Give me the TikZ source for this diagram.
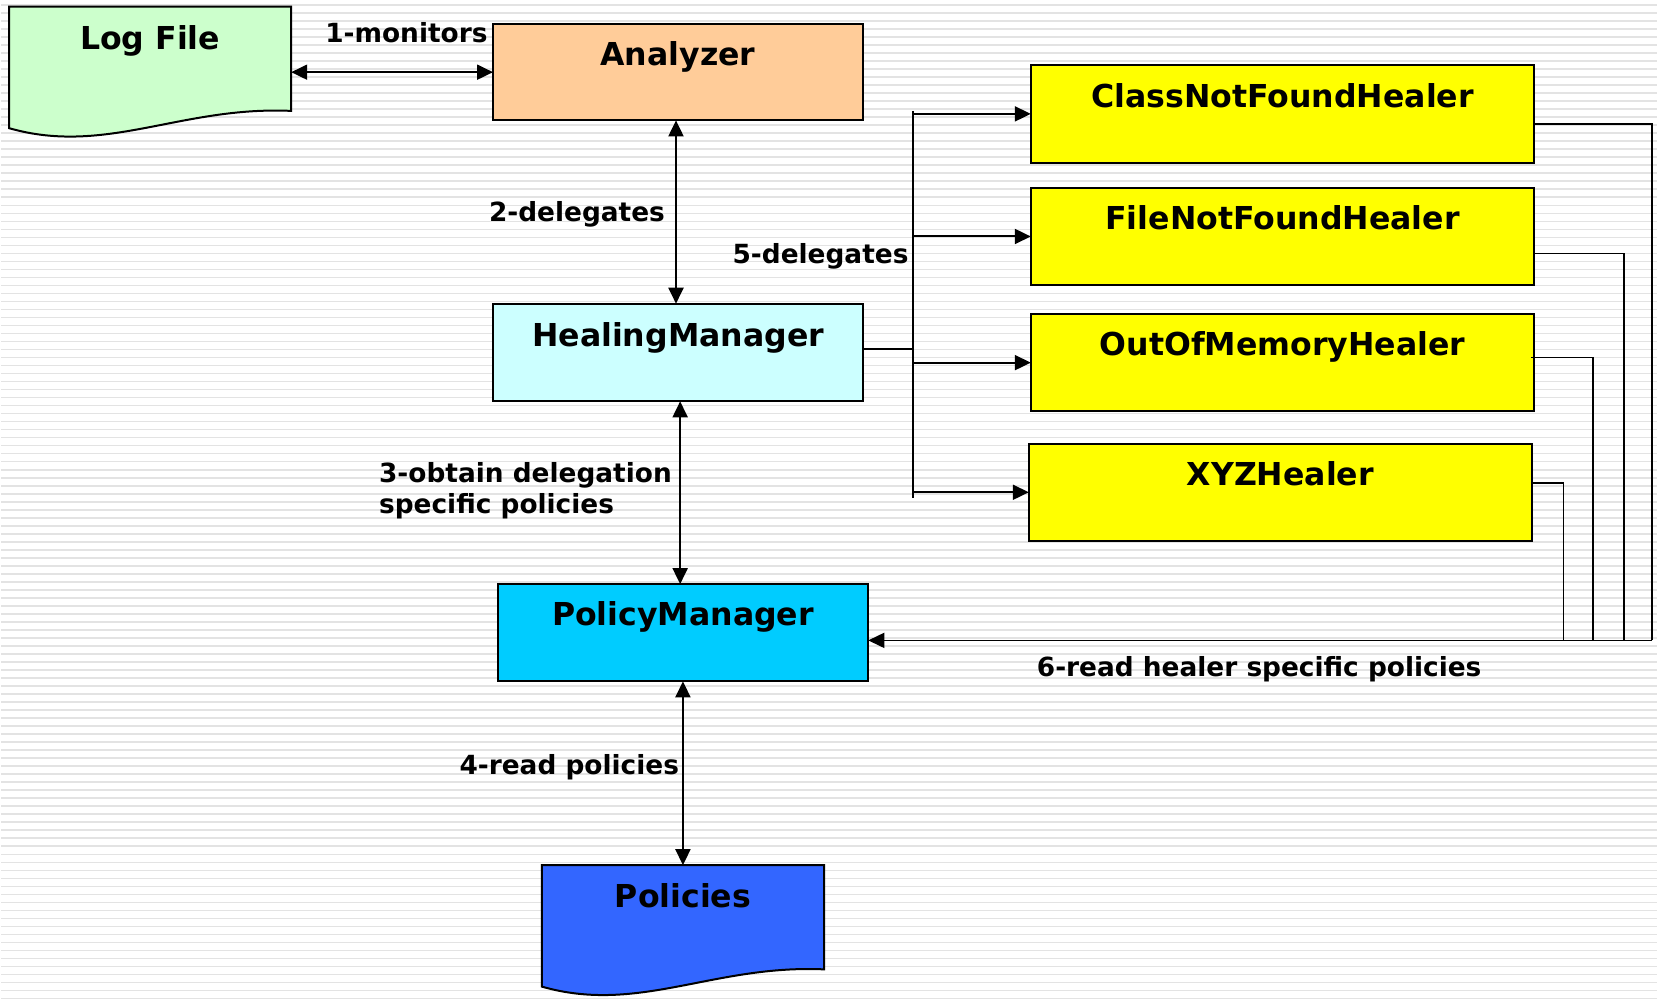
\documentclass[tikz,border=0pt]{standalone}
\usepackage{fontspec}
\setmainfont{DejaVu Sans}
\usetikzlibrary{arrows.meta,calc,fit}
\definecolor{logc}{HTML}{CCFFCC}
\definecolor{anc}{HTML}{FFCC99}
\definecolor{hmc}{HTML}{CCFFFF}
\definecolor{pmc}{HTML}{00CCFF}
\definecolor{polc}{HTML}{3366FF}
\definecolor{hc}{HTML}{FFFF00}
\begin{document}
\begin{tikzpicture}[x=0.5pt,y=-0.5pt,
  box/.style={draw=black,line width=1pt,inner sep=0pt,outer sep=0pt},
  area/.style={inner sep=0pt,outer sep=0pt},
  ttl/.style={font=\fontsize{15.8pt}{18pt}\selectfont\bfseries,inner sep=0pt,anchor=base},
  lbl/.style={font=\fontsize{13.2pt}{16pt}\selectfont\bfseries,inner sep=0pt},
  conn/.style={line width=1pt,draw=black},
  arr/.style={conn,-{Triangle[length=8pt,width=7.5pt]}},
  biarr/.style={conn,{Triangle[length=8pt,width=7.5pt]}-{Triangle[length=8pt,width=7.5pt]}},
  ret/.style={line width=0.8pt,draw=black}]
% background
\fill[white] (0,0) rectangle (1658,998);
\foreach \k in {0,...,124} \draw[black!11,line width=0.8pt] (0,5+8.02*\k) -- (1658,5+8.02*\k);
\useasboundingbox (0,0) rectangle (1658,998);

% Log File (document shape)
\draw[box,fill=logc] (8.3,6.7) -- (290.7,6.7) -- (290.7,111) .. controls (180,106) and (105,156) .. (8.3,128.3) -- cycle;
\node[area,fit={(8.3,6.7) (290.7,111)}] (log) {};
\node[ttl] (tlog) at (149.5,50) {Log File};

% Policies (document shape)
\begin{scope}[shift={(533.4,859.3)}]
\draw[box,fill=polc] (8.3,6.7) -- (290.7,6.7) -- (290.7,111) .. controls (180,106) and (105,156) .. (8.3,128.3) -- cycle;
\end{scope}
\node[area,fit={(541.7,866) (824.1,970.3)}] (pol) {};
\node[ttl] (tpol) at ($(pol.north)+(0,42.3)$) {Policies};

% boxes
\node[box,fill=anc,fit={(492.7,24) (863,120.5)}] (an) {};
\node[box,fill=hmc,fit={(492.7,304) (863.3,401.7)}] (hm) {};
\node[box,fill=pmc,fit={(497.3,584.7) (868.3,682)}] (pm) {};
\node[box,fill=hc,fit={(1031,65.3) (1535,162.7)}] (c1) {};
\node[box,fill=hc,fit={(1031,187.7) (1535,285.7)}] (c2) {};
\node[box,fill=hc,fit={(1031,314.3) (1535,411.7)}] (c3) {};
\node[box,fill=hc,fit={(1029,444) (1532.7,541.5)}] (c4) {};

\node[ttl] (tan) at ($(an.north)+(0,42)$) {Analyzer};
\node[ttl] (thm) at ($(hm.north)+(0,42.7)$) {HealingManager};
\node[ttl] (tpm) at ($(pm.north)+(0,41.3)$) {PolicyManager};
\node[ttl] (tc1) at ($(c1.north)+(0,42)$) {ClassNotFoundHealer};
\node[ttl] (tc2) at ($(c2.north)+(0,42)$) {FileNotFoundHealer};
\node[ttl] (tc3) at ($(c3.north)+(0,42)$) {OutOfMemoryHealer};
\node[ttl] (tc4) at ($(c4.north)+(0,42)$) {XYZHealer};

% connectors
\draw[biarr] (log.east |- an.west) -- (an.west);
\coordinate (a1) at ($(an.south)+(-2,0)$);
\draw[biarr] (a1) -- (a1 |- hm.north);
\coordinate (a2) at ($(hm.south)+(2,0)$);
\draw[biarr] (a2) -- (a2 |- pm.north);
\draw[biarr] (pm.south) -- (pm.south |- pol.north);

\coordinate (bt) at (912.7,111);
\coordinate (bb) at (912.7,498);
\coordinate (hmo) at ($(hm.east)+(0,-4)$);
\draw[conn] (bt) -- (bb);
\draw[conn] (hmo) -- (hmo -| bt);
\foreach \n in {c1,c2,c3,c4} \draw[arr] (bt |- \n.west) -- (\n.west);

\coordinate (r1) at (1653,641);
\coordinate (r2) at (1625,641);
\coordinate (r3) at (1594,641);
\coordinate (r4) at (1564,641);
\draw[ret] ($(c1.east)+(0,10)$) -| (r1);
\draw[ret] ($(c2.east)+(0,17)$) -| (r2);
\draw[ret] ($(c3.east)+(-3,-5)$) -| (r3);
\draw[ret] ($(c4.east)+(0,-9)$) -| (r4);
\draw[arr,line width=0.8pt] (r1) -- (r1 -| pm.east);

% labels
\node[lbl,anchor=base] (l1) at (406,43) {1-monitors};
\node[lbl,anchor=base] (l2) at (576.7,221.7) {2-delegates};
\node[lbl,anchor=base west] (l3a) at (378.3,483.3) {3-obtain delegation};
\node[lbl,anchor=base west] (l3b) at (378.3,514) {specific policies};
\node[lbl,anchor=base] (l4) at (569,775) {4-read policies};
\node[lbl,anchor=base] (l5) at (820.5,264) {5-delegates};
\node[lbl,anchor=base west] (l6) at (1036.7,676.7) {6-read healer specific policies};
\end{tikzpicture}
\end{document}
